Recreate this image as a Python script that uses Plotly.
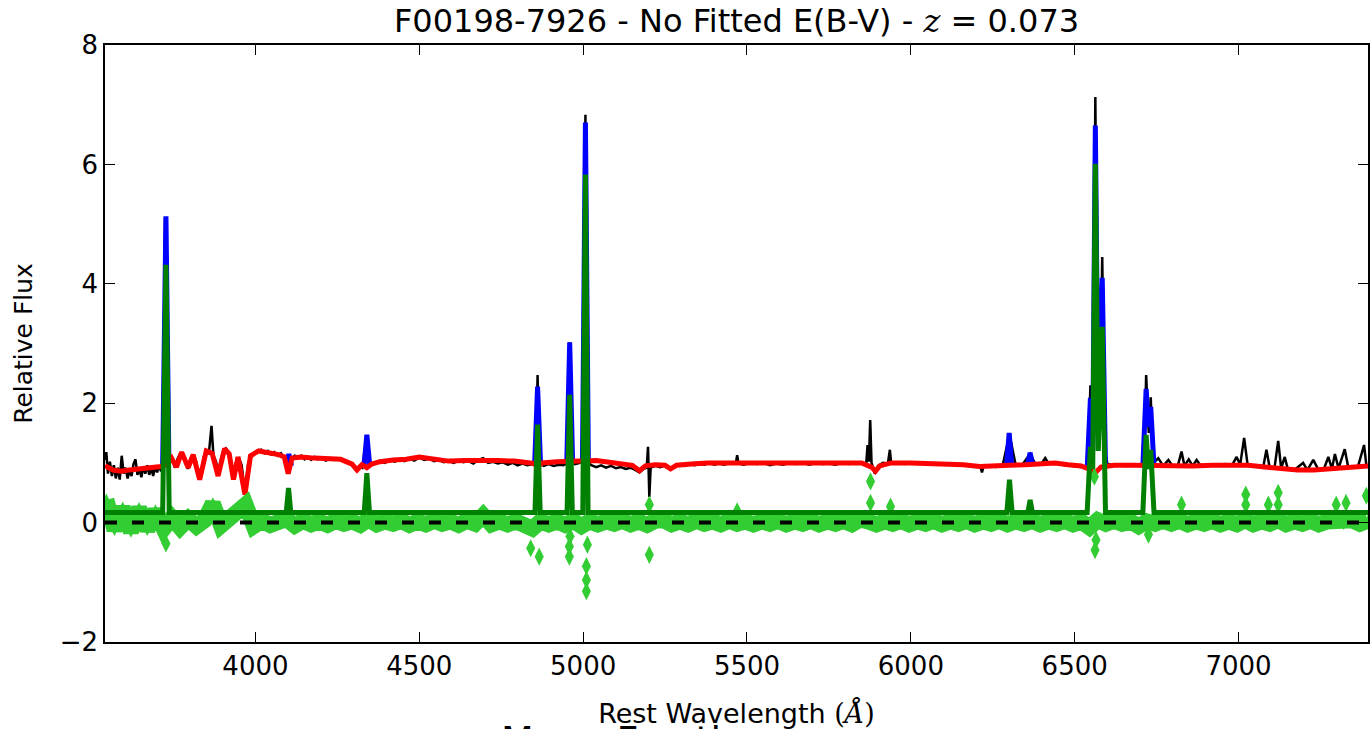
import plotly.graph_objects as go

# ---------------- data ----------------
obs_wave = [3541, 3545, 3550, 3556, 3562, 3568, 3574, 3580, 3586, 3592, 3598, 3604, 3610, 3616, 3622,
            3628, 3634, 3640, 3646, 3652, 3658, 3664, 3670, 3676, 3682, 3688, 3694, 3700, 3706, 3712,
            3718, 3724, 3730, 3738, 3746, 3754, 3762, 3770, 3778, 3786, 3794, 3802, 3810, 3818, 3826,
            3834, 3842, 3850, 3858, 3866, 3872, 3880, 3887, 3894, 3902, 3910, 3918, 3926, 3934, 3942,
            3950, 3958, 3968, 3978, 3988, 3998, 4008, 4018, 4028, 4038, 4048, 4058, 4068, 4078, 4088,
            4100, 4110, 4120, 4130, 4140, 4150, 4160, 4170, 4180, 4190, 4200, 4215, 4230, 4245, 4260,
            4275, 4290, 4305, 4318, 4326, 4338, 4350, 4365, 4380, 4395, 4410, 4425, 4440, 4455, 4470,
            4485, 4500, 4515, 4530, 4545, 4560, 4575, 4590, 4605, 4620, 4635, 4650, 4665, 4680, 4695,
            4710, 4725, 4740, 4755, 4770, 4785, 4800, 4815, 4830, 4848, 4856, 4861, 4866, 4880, 4895,
            4910, 4925, 4940, 4952, 4958, 4964, 4975, 4990, 5000, 5007, 5013, 5025, 5040, 5055, 5070,
            5085, 5100, 5115, 5130, 5145, 5160, 5172, 5185, 5194, 5198, 5202, 5206, 5220, 5235, 5250,
            5265, 5280, 5295, 5310, 5325, 5340, 5355, 5370, 5385, 5400, 5415, 5430, 5450, 5466, 5470,
            5474, 5490, 5510, 5530, 5550, 5570, 5590, 5610, 5630, 5650, 5670, 5690, 5710, 5730, 5750,
            5770, 5790, 5810, 5830, 5850, 5864, 5868, 5872, 5876, 5880, 5890, 5900, 5915, 5930, 5936,
            5940, 5960, 5980, 6000, 6020, 6040, 6060, 6080, 6100, 6120, 6140, 6160, 6180, 6200, 6212,
            6217, 6222, 6240, 6260, 6280, 6301, 6320, 6340, 6364, 6380, 6400, 6410, 6420, 6440, 6460,
            6480, 6500, 6520, 6540, 6548, 6556, 6563, 6570, 6577, 6584, 6592, 6600, 6620, 6640, 6660,
            6680, 6700, 6712, 6718, 6726, 6732, 6740, 6755, 6770, 6786, 6800, 6815, 6826, 6835, 6848,
            6860, 6872, 6885, 6900, 6920, 6940, 6960, 6980, 6994, 7005, 7017, 7028, 7045, 7060, 7075,
            7085, 7095, 7110, 7121, 7130, 7141, 7150, 7170, 7197, 7210, 7228, 7245, 7260, 7274, 7285,
            7294, 7305, 7324, 7335, 7350, 7365, 7383, 7390, 7400]
obs_flux = [1.05, 1.18, 0.82, 1.02, 0.78, 0.96, 0.74, 0.92, 0.72, 1.12, 0.82, 0.92, 0.74, 0.88, 0.78,
            0.98, 1.06, 0.80, 0.90, 0.76, 0.94, 0.82, 0.96, 0.80, 0.92, 0.78, 0.94, 0.84, 0.96, 0.86,
            0.96, 5.10, 0.98, 1.02, 1.08, 0.92, 1.06, 1.15, 1.12, 1.00, 0.90, 1.08, 1.12, 1.05, 0.80,
            0.76, 1.10, 1.18, 1.16, 1.62, 1.12, 1.02, 0.80, 1.05, 1.20, 1.24, 1.16, 1.02, 0.76, 1.06,
            1.08, 0.96, 0.52, 1.00, 1.12, 1.18, 1.20, 1.22, 1.16, 1.20, 1.14, 1.18, 1.12, 1.16, 1.08,
            0.84, 1.06, 1.12, 1.08, 1.12, 1.06, 1.10, 1.05, 1.10, 1.06, 1.08, 1.04, 1.08, 1.05, 1.07,
            1.02, 1.00, 0.90, 0.95, 0.92, 1.40, 0.97, 1.00, 1.03, 1.00, 1.05, 1.02, 1.06, 1.03, 1.07,
            1.04, 1.09, 1.05, 1.07, 1.03, 1.05, 1.01, 1.03, 1.00, 1.04, 1.01, 1.03, 0.99, 1.05, 1.08,
            1.00, 1.02, 0.99, 1.01, 0.97, 1.00, 0.96, 0.99, 0.96, 0.98, 1.00, 2.47, 1.00, 0.95, 0.98,
            0.95, 0.97, 0.96, 1.00, 3.02, 1.02, 0.98, 1.00, 1.05, 6.83, 1.03, 0.96, 0.93, 0.96, 0.92,
            0.95, 0.91, 0.93, 0.90, 0.92, 0.88, 0.84, 0.90, 0.92, 1.27, 0.43, 0.92, 0.95, 0.93, 0.96,
            0.90, 0.95, 0.97, 0.95, 0.98, 0.96, 0.99, 0.97, 1.00, 0.97, 0.99, 0.97, 1.00, 0.99, 1.13,
            0.99, 0.97, 1.00, 0.98, 1.00, 0.96, 0.99, 0.97, 1.00, 0.98, 1.00, 0.97, 1.00, 0.98, 0.99,
            0.97, 1.00, 0.98, 1.00, 0.99, 1.00, 1.30, 1.02, 1.72, 1.00, 0.82, 0.95, 1.00, 0.99, 1.22,
            0.99, 1.00, 0.98, 1.00, 0.98, 1.00, 0.98, 0.99, 0.97, 0.99, 0.96, 0.98, 0.95, 0.94, 0.94,
            0.84, 0.94, 0.95, 0.93, 0.95, 1.48, 0.96, 0.97, 1.15, 0.98, 1.00, 1.08, 0.99, 1.00, 0.97,
            0.96, 0.95, 0.93, 0.95, 2.30, 1.60, 7.13, 2.00, 1.90, 4.45, 1.20, 0.98, 0.96, 0.97, 0.95,
            0.96, 0.97, 1.00, 2.47, 1.50, 2.10, 1.00, 1.08, 0.95, 1.05, 0.94, 0.96, 1.19, 0.95, 1.06,
            0.95, 1.05, 0.95, 0.96, 0.97, 0.96, 0.98, 0.96, 1.10, 0.97, 1.42, 0.95, 0.96, 0.94, 0.92,
            1.22, 0.92, 0.93, 1.37, 0.91, 1.10, 0.90, 0.88, 1.00, 0.88, 1.05, 0.87, 0.89, 1.10, 0.90,
            1.15, 0.91, 1.23, 0.92, 0.93, 0.95, 1.30, 0.96, 0.95]

model_wave = [3541, 3545, 3565, 3590, 3615, 3640, 3665, 3690, 3712, 3730, 3744, 3759, 3775, 3795, 3810,
              3830, 3850, 3868, 3886, 3906, 3920, 3933, 3947, 3968, 3985, 4010, 4040, 4070, 4088, 4100,
              4112, 4140, 4180, 4220, 4260, 4295, 4310, 4325, 4340, 4355, 4380, 4420, 4460, 4500, 4540,
              4590, 4640, 4690, 4740, 4790, 4830, 4850, 4861, 4875, 4920, 4960, 5000, 5040, 5080, 5120,
              5150, 5172, 5190, 5220, 5250, 5267, 5285, 5330, 5380, 5440, 5500, 5560, 5620, 5680, 5740,
              5800, 5850, 5880, 5892, 5905, 5940, 6000, 6060, 6110, 6160, 6210, 6260, 6300, 6350, 6400,
              6440, 6480, 6520, 6550, 6560, 6580, 6620, 6680, 6740, 6800, 6860, 6920, 6980, 7030, 7080,
              7130, 7180, 7230, 7280, 7330, 7370, 7400]
model_flux = [0.96, 0.94, 0.88, 0.86, 0.88, 0.90, 0.91, 0.92, 0.94, 0.98, 1.08, 0.93, 1.18, 0.92, 1.14,
              0.72, 1.20, 1.16, 0.78, 1.24, 1.15, 0.72, 1.10, 0.47, 1.12, 1.20, 1.18, 1.14, 1.10, 0.82,
              1.08, 1.10, 1.08, 1.07, 1.06, 0.98, 0.88, 0.97, 0.92, 0.98, 1.02, 1.05, 1.06, 1.10, 1.06,
              1.03, 1.04, 1.05, 1.04, 1.03, 1.01, 0.99, 0.93, 1.00, 1.02, 1.03, 1.05, 1.04, 1.01, 0.99,
              0.96, 0.87, 0.95, 0.97, 0.96, 0.90, 0.96, 0.98, 1.00, 1.00, 1.00, 1.00, 1.00, 1.00, 1.00,
              1.00, 1.00, 0.93, 0.86, 0.95, 1.00, 1.00, 0.99, 0.99, 0.97, 0.94, 0.94, 0.96, 0.97, 0.99,
              1.00, 0.97, 0.95, 0.88, 0.82, 0.93, 0.96, 0.96, 0.95, 0.94, 0.95, 0.96, 0.97, 0.96, 0.93,
              0.90, 0.88, 0.88, 0.90, 0.92, 0.95, 0.95]

# total fit (continuum + emission lines), only the line segments are visible
fit_wave = [3717, 3727, 3736, None, 4094, 4102, 4110, None, 4331, 4340, 4349, None,
            4852, 4861, 4870, None, 4950, 4959, 4968, None, 4998, 5007, 5016, None,
            6292, 6300, 6308, None, 6356, 6364, 6372, None,
            6538, 6548, 6555, 6563, 6572, 6584, 6594, None,
            6708, 6718, 6725, 6732, 6742]
fit_flux = [0.97, 5.13, 1.00, None, 0.95, 1.15, 0.95, None, 0.92, 1.47, 0.95, None,
            0.97, 2.28, 0.98, None, 1.00, 3.02, 1.00, None, 1.02, 6.70, 1.02, None,
            0.94, 1.50, 0.94, None, 0.96, 1.17, 0.96, None,
            0.90, 2.09, 1.20, 6.65, 1.50, 4.10, 0.94, None,
            0.95, 2.24, 1.60, 1.94, 0.95]

# emission-line model (offset baseline)
lines_wave = [3541, 3717, 3727, 3737, 4094, 4101, 4108, 4332, 4340, 4348, 4853, 4861, 4869,
              4951, 4959, 4967, 4999, 5007, 5015, 6293, 6301, 6309, 6357, 6364, 6371,
              6538, 6548, 6555, 6563, 6572, 6584, 6594, 6708, 6718, 6725, 6732, 6742, 7400]
lines_flux = [0.17, 0.17, 4.32, 0.17, 0.17, 0.58, 0.17, 0.17, 0.83, 0.17, 0.17, 1.64, 0.17,
              0.17, 2.14, 0.17, 0.17, 5.83, 0.17, 0.17, 0.72, 0.17, 0.17, 0.38, 0.17,
              0.17, 1.27, 0.90, 6.01, 1.20, 3.28, 0.17, 0.17, 1.47, 0.90, 1.22, 0.17, 0.17]

# residuals on a 25 A grid starting at 3545 A
resid_start, resid_step = 3545, 25
resid_flux = [0.38, -0.12, 0.25, -0.15, 0.24, -0.12, 0.20, -0.10, 0.08, -0.08,
              0.06, -0.06, 0.04, 0.32, -0.05, 0.05, 0.12, 0.30, -0.06, 0.03,
              -0.04, 0.02, 0.06, -0.05, 0.03, -0.03, 0.02, -0.04, 0.03, -0.02,
              0.02, -0.04, 0.05, -0.03, 0.02, -0.02, 0.03, -0.04, 0.02, -0.03,
              0.03, -0.02, 0.02, -0.04, 0.03, -0.02, 0.12, -0.03, 0.02, -0.03,
              0.02, -0.04, -0.10, 0.02, -0.03, 0.02, -0.04, 0.03, -0.06, 0.02,
              -0.03, 0.02, -0.02, 0.03, -0.03, 0.02, -0.04, 0.03, 0.04, -0.03,
              0.02, -0.03, 0.03, -0.02, 0.02, -0.03, 0.03, -0.02, 0.02, -0.03,
              0.02, -0.02, 0.03, -0.03, 0.02, -0.02, 0.03, -0.03, 0.02, -0.02,
              0.03, -0.03, 0.05, 0.02, -0.03, 0.02, -0.02, 0.03, -0.03, 0.02,
              -0.02, 0.03, -0.03, 0.02, -0.02, 0.03, -0.03, 0.02, -0.02, 0.03,
              -0.03, 0.02, -0.02, 0.03, -0.03, 0.02, -0.02, 0.03, -0.03, 0.02,
              -0.08, 0.04, -0.02, 0.03, -0.02, 0.02, -0.06, 0.02, -0.02, 0.03,
              -0.02, 0.03, -0.03, 0.02, -0.02, 0.03, -0.03, 0.02, -0.03, 0.04,
              -0.03, 0.02, -0.02, 0.04, -0.03, 0.02, -0.02, 0.03, -0.03, 0.02,
              0.03, -0.02, 0.04, -0.02, 0.03]
resid_wave = [resid_start + resid_step * i for i in range(len(resid_flux))]

# individual residual points standing out of the band
outlier_wave = [3727, 4840, 4866, 4958, 4958, 4960, 5013, 5010, 5010, 5010, 5202, 5202, 5470,
                5877, 5877, 5938, 6562, 6565, 6560, 6725, 6826, 7022, 7022, 7091, 7121, 7121,
                7298, 7328, 7390]
outlier_flux = [-0.35, -0.43, -0.57, -0.57, -0.40, -0.23, -0.37, -0.73, -0.96, -1.15, -0.54, 0.30, 0.19,
                0.69, 0.33, 0.27, -0.46, -0.29, 0.77, -0.20, 0.30, 0.47, 0.30, 0.30, 0.50, 0.30,
                0.30, 0.33, 0.45]

x_ticks = [4000, 4500, 5000, 5500, 6000, 6500, 7000]
y_ticks = [-2, 0, 2, 4, 6, 8]
x_range = [3541, 7395]
y_range = [-2, 8]

# ---------------- figure ----------------
fig = go.Figure()
fig.add_trace(go.Scatter(x=obs_wave, y=obs_flux, mode="lines",
                         line=dict(color="#000000", width=2.5), hoverinfo="skip"))
fig.add_trace(go.Scatter(x=fit_wave, y=fit_flux, mode="lines", connectgaps=False,
                         line=dict(color="#0000ff", width=5), hoverinfo="skip"))
fig.add_trace(go.Scatter(x=model_wave, y=model_flux, mode="lines",
                         line=dict(color="#ff0000", width=5), hoverinfo="skip"))
fig.add_trace(go.Scatter(x=resid_wave, y=resid_flux, mode="lines+markers",
                         line=dict(color="#32cd32", width=16),
                         marker=dict(symbol="diamond-tall", size=9, color="#32cd32"),
                         hoverinfo="skip"))
fig.add_trace(go.Scatter(x=outlier_wave, y=outlier_flux, mode="markers",
                         marker=dict(symbol="diamond-tall", size=13, color="#32cd32"),
                         hoverinfo="skip"))
fig.add_trace(go.Scatter(x=lines_wave, y=lines_flux, mode="lines",
                         line=dict(color="#008000", width=5), hoverinfo="skip"))

fig.add_shape(type="line", xref="paper", x0=0, x1=1, yref="y", y0=0, y1=0,
              line=dict(color="#000000", width=4, dash="12px,15px"), layer="above")

font_main = "DejaVu Sans, Bitstream Vera Sans, sans-serif"
serif = "font-family:DejaVu Serif"

fig.update_layout(
    width=1370, height=729,
    margin=dict(l=105, r=0, t=45, b=87),
    paper_bgcolor="white", plot_bgcolor="white",
    showlegend=False,
    font=dict(family=font_main, color="#000000"),
    title=dict(text="F00198-7926 - No Fitted E(B-V) - <span style='" + serif + "'><i>z</i></span> = 0.073",
               x=0.5, xref="paper", xanchor="center",
               y=1 - 21 / 729, yref="container", yanchor="middle",
               font=dict(size=32, family=font_main, color="#000000")),
)
fig.update_xaxes(range=x_range, tickvals=x_ticks, ticks="inside", ticklen=10, tickwidth=1,
                 tickcolor="#000000", showline=True, linecolor="#000000", linewidth=1.5,
                 mirror="ticks", showgrid=False, zeroline=False,
                 tickfont=dict(size=26, family=font_main),
                 title=dict(text="Rest Wavelength <span style='" + serif + "'>(<i>Å</i>)</span>",
                            font=dict(size=27, family=font_main), standoff=24))
fig.update_yaxes(range=y_range, tickvals=y_ticks, ticks="inside", ticklen=10, tickwidth=1,
                 tickcolor="#000000", showline=True, linecolor="#000000", linewidth=1.5,
                 mirror="ticks", showgrid=False, zeroline=False,
                 tickfont=dict(size=26, family=font_main),
                 title=dict(text="Relative Flux", font=dict(size=25, family=font_main), standoff=20))

# title of the panel below, only its top edge shows in the picture
fig.add_annotation(text="Mean Fraction", xref="paper", yref="paper",
                   x=(500 - 105) / 1265, y=(642 - 716) / 597, xanchor="left", yanchor="top",
                   showarrow=False, font=dict(size=38, family=font_main, color="#000000"))

fig.write_html("out.html", include_plotlyjs=True, config={"displayModeBar": False},
               post_script="document.body.style.margin='0px';document.body.style.overflow='hidden';")
